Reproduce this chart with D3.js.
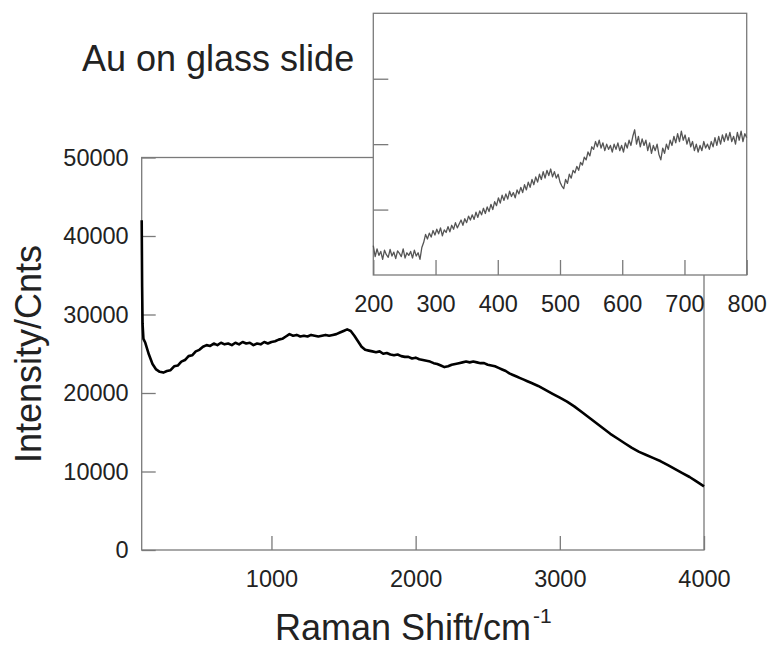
<!DOCTYPE html>
<html>
<head>
<meta charset="utf-8">
<script src="https://cdn.jsdelivr.net/npm/d3@7"></script>
<style>
  body { margin: 0; background: #fff; }
  text { font-family: "Liberation Sans", Arial, sans-serif; fill: #222; }
  .axis text { font-size: 23.5px; }
  .axis line { stroke: #7a7a7a; stroke-width: 1.3px; }
</style>
</head>
<body>
<div id="chart"></div>
<script>
// Main spectrum: Raman shift (cm-1) and intensity (counts)
var ramanShift = [100, 103, 106, 112, 125, 150, 175, 200, 225, 250, 275, 300, 325, 350, 375, 400, 425, 450, 475, 500,
  525, 550, 575, 600, 625, 650, 675, 700, 725, 750, 775, 800, 825, 850, 875, 900, 925, 950, 975, 1000,
  1025, 1050, 1075, 1100, 1125, 1150, 1175, 1200, 1225, 1250, 1275, 1300, 1325, 1350, 1375, 1400, 1425, 1450, 1475, 1500,
  1525, 1550, 1575, 1600, 1625, 1650, 1675, 1700, 1725, 1750, 1775, 1800, 1825, 1850, 1875, 1900, 1925, 1950, 1975, 2000,
  2025, 2050, 2075, 2100, 2125, 2150, 2175, 2200, 2225, 2250, 2275, 2300, 2325, 2350, 2375, 2400, 2425, 2450, 2475, 2500,
  2525, 2550, 2575, 2600, 2625, 2650, 2675, 2700, 2725, 2750, 2775, 2800, 2850, 2900, 2950, 3000, 3050, 3100, 3150, 3200,
  3250, 3300, 3350, 3400, 3450, 3500, 3550, 3600, 3650, 3700, 3750, 3800, 3850, 3900, 3950, 4000];
var intensity = [42000, 33500, 28800, 26900, 26400, 24900, 23700, 23000, 22700, 22600, 22800, 22900, 23400, 23500, 24000, 24200, 24700, 24800, 25300, 25500,
  25900, 26100, 26000, 26300, 26100, 26400, 26200, 26300, 26100, 26400, 26200, 26500, 26300, 26400, 26100, 26300, 26200, 26500, 26300, 26500,
  26600, 26800, 26900, 27200, 27500, 27300, 27400, 27200, 27300, 27200, 27400, 27300, 27200, 27300, 27400, 27300, 27400, 27500, 27700, 27900,
  28100, 27900, 27300, 26600, 25900, 25500, 25400, 25300, 25200, 25300, 25000, 25100, 24900, 24800, 24900, 24700, 24600, 24600, 24400, 24500,
  24300, 24200, 24100, 24000, 23800, 23700, 23500, 23300, 23400, 23600, 23700, 23800, 23900, 24000, 23900, 24000, 23900, 23800, 23800, 23600,
  23500, 23400, 23200, 23000, 22800, 22500, 22300, 22100, 21900, 21700, 21500, 21300, 20900, 20400, 19900, 19400, 18900, 18300, 17600, 16900,
  16200, 15500, 14800, 14200, 13600, 13000, 12500, 12100, 11700, 11300, 10800, 10300, 9800, 9300, 8700, 8100];

// Inset: low-wavenumber zoom (arbitrary intensity units, no labels on its y axis)
var insetShift = [200, 203, 206, 209, 212, 215, 218, 221, 224, 227, 230, 233, 236, 239, 242, 245, 248, 251, 254, 257,
  260, 263, 266, 269, 272, 275, 278, 281, 284, 287, 290, 293, 296, 299, 302, 305, 308, 311, 314, 317,
  320, 323, 326, 329, 332, 335, 338, 341, 344, 347, 350, 353, 356, 359, 362, 365, 368, 371, 374, 377,
  380, 383, 386, 389, 392, 395, 398, 401, 404, 407, 410, 413, 416, 419, 422, 425, 428, 431, 434, 437,
  440, 443, 446, 449, 452, 455, 458, 461, 464, 467, 470, 473, 476, 479, 482, 485, 488, 491, 494, 497,
  500, 503, 506, 509, 512, 515, 518, 521, 524, 527, 530, 533, 536, 539, 542, 545, 548, 551, 554, 557,
  560, 563, 566, 569, 572, 575, 578, 581, 584, 587, 590, 593, 596, 599, 602, 605, 608, 611, 614, 617,
  620, 623, 626, 629, 632, 635, 638, 641, 644, 647, 650, 653, 656, 659, 662, 665, 668, 671, 674, 677,
  680, 683, 686, 689, 692, 695, 698, 701, 704, 707, 710, 713, 716, 719, 722, 725, 728, 731, 734, 737,
  740, 743, 746, 749, 752, 755, 758, 761, 764, 767, 770, 773, 776, 779, 782, 785, 788, 791, 794, 797, 800];
var insetIntensity = [45, 28, 40, 30, 36, 24, 38, 31, 27, 39, 29, 35, 25, 37, 33, 28, 40, 26, 34, 30,
  36, 26, 38, 29, 34, 24, 42, 50, 62, 55, 64, 58, 68, 61, 70, 63, 72, 60, 69, 65,
  74, 66, 76, 70, 80, 72, 78, 84, 76, 86, 80, 90, 84, 92, 85, 96, 88, 98, 92, 102,
  94, 104, 97, 108, 100, 112, 106, 118, 110, 122, 114, 124, 116, 128, 120, 126, 118, 130, 124, 134,
  126, 138, 130, 142, 134, 146, 138, 150, 142, 154, 146, 158, 148, 160, 152, 162, 150, 158, 148, 154,
  142, 136, 132, 146, 140, 154, 148, 160, 156, 166, 160, 172, 168, 180, 176, 188, 182, 196, 192, 204,
  196, 206, 194, 202, 190, 200, 192, 198, 188, 200, 192, 202, 190, 198, 188, 202, 194, 206, 198, 212,
  222, 200, 212, 196, 208, 198, 206, 190, 202, 186, 198, 190, 200, 184, 176, 194, 186, 200, 192, 206,
  198, 212, 202, 216, 204, 220, 206, 214, 200, 210, 196, 204, 190, 200, 188, 198, 190, 204, 194, 200,
  192, 204, 196, 210, 198, 212, 200, 214, 204, 216, 206, 218, 204, 212, 200, 218, 206, 220, 204, 216, 210];

var mainXTicks = [1000, 2000, 3000, 4000];
var mainYTicks = [0, 10000, 20000, 30000, 40000, 50000];
var insetXTicks = [200, 300, 400, 500, 600, 700, 800];
var insetYTicks = [100, 200, 300];

var svgWidth = 769;
var svgHeight = 649;

var svg = d3.select("#chart")
  .append("svg")
  .attr("width", svgWidth)
  .attr("height", svgHeight);

// ---- main plot ----
var main = { left: 141.7, right: 704, top: 157.5, bottom: 550 };

var xScale = d3.scaleLinear().domain([100, 4000]).range([main.left, main.right]);
var yScale = d3.scaleLinear().domain([0, 50000]).range([main.bottom, main.top]);

var mainData = ramanShift.map(function(s, i) { return { x: s, y: intensity[i] }; });

svg.append("rect")
  .attr("x", main.left)
  .attr("y", main.top)
  .attr("width", main.right - main.left)
  .attr("height", main.bottom - main.top)
  .attr("fill", "none")
  .attr("stroke", "#7a7a7a")
  .attr("stroke-width", 1.3);

var xAxis = svg.append("g")
  .attr("class", "axis")
  .attr("transform", `translate(0, ${main.bottom})`)
  .call(d3.axisBottom(xScale).tickValues(mainXTicks).tickSize(-14).tickPadding(20).tickFormat(d3.format("d")));
xAxis.select(".domain").remove();

var yAxis = svg.append("g")
  .attr("class", "axis")
  .attr("transform", `translate(${main.left}, 0)`)
  .call(d3.axisLeft(yScale).tickValues(mainYTicks).tickSize(-14).tickPadding(13).tickFormat(d3.format("d")));
yAxis.select(".domain").remove();

svg.append("path")
  .datum(mainData)
  .attr("fill", "none")
  .attr("stroke", "#000")
  .attr("stroke-width", 2.6)
  .attr("stroke-linejoin", "round")
  .attr("d", d3.line().x(d => xScale(d.x)).y(d => yScale(d.y)));

// axis titles
svg.append("text")
  .attr("transform", "translate(41, 354) rotate(-90)")
  .attr("text-anchor", "middle")
  .style("font-size", "36px")
  .text("Intensity/Cnts");

var xTitle = svg.append("text")
  .attr("x", 275)
  .attr("y", 640)
  .style("font-size", "36px");
xTitle.append("tspan").text("Raman Shift/cm");
xTitle.append("tspan")
  .attr("dy", -17)
  .attr("dx", 2)
  .style("font-size", "21px")
  .text("-1");

svg.append("text")
  .attr("x", 82)
  .attr("y", 71)
  .style("font-size", "36px")
  .text("Au on glass slide");

// ---- inset ----
var inset = { left: 373.3, right: 746.7, top: 13.3, bottom: 275 };

var xInset = d3.scaleLinear().domain([200, 800]).range([inset.left, inset.right]);
var yInset = d3.scaleLinear().domain([0, 400]).range([inset.bottom, inset.top]);

var insetData = insetShift.map(function(s, i) { return { x: s, y: insetIntensity[i] }; });

svg.append("rect")
  .attr("x", inset.left)
  .attr("y", inset.top)
  .attr("width", inset.right - inset.left)
  .attr("height", inset.bottom - inset.top)
  .attr("fill", "#fff")
  .attr("stroke", "#7a7a7a")
  .attr("stroke-width", 1.3);

var xInsetAxis = svg.append("g")
  .attr("class", "axis")
  .attr("transform", `translate(0, ${inset.bottom})`)
  .call(d3.axisBottom(xInset).tickValues(insetXTicks).tickSize(-15).tickPadding(20));
xInsetAxis.select(".domain").remove();

var yInsetAxis = svg.append("g")
  .attr("class", "axis")
  .attr("transform", `translate(${inset.left}, 0)`)
  .call(d3.axisLeft(yInset).tickValues(insetYTicks).tickSize(-15).tickFormat(""));
yInsetAxis.select(".domain").remove();

svg.selectAll(".axis text").attr("font-family", null).attr("font-size", null);

svg.append("path")
  .datum(insetData)
  .attr("fill", "none")
  .attr("stroke", "#555")
  .attr("stroke-width", 1.3)
  .attr("stroke-linejoin", "round")
  .attr("d", d3.line().x(d => xInset(d.x)).y(d => yInset(d.y)));
</script>
</body>
</html>
